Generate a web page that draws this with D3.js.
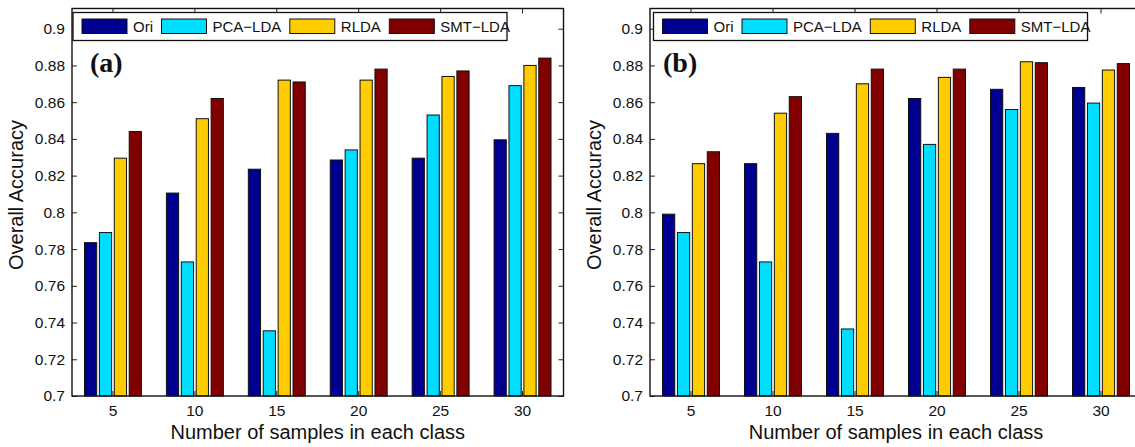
<!DOCTYPE html>
<html>
<head>
<meta charset="utf-8">
<script src="https://cdn.jsdelivr.net/npm/d3@7"></script>
<style>
  body { margin: 0; background: #fff; }
  svg { display: block; font-family: "Liberation Sans", Arial, sans-serif; }
</style>
</head>
<body>
<svg id="chart" width="1135" height="447"></svg>
<script>
// categories and series
const groups = ["5", "10", "15", "20", "25", "30"];
const methods = ["Ori", "PCA\u2212LDA", "RLDA", "SMT\u2212LDA"];
const colors = ["#000090", "#00DDFF", "#FFCC00", "#800000"];
const yTicks = [0.7, 0.72, 0.74, 0.76, 0.78, 0.8, 0.82, 0.84, 0.86, 0.88, 0.9];

// panel (a)
const oriA  = [0.7835, 0.8105, 0.8235, 0.8285, 0.8295, 0.8395];
const pcaA  = [0.789, 0.773, 0.7355, 0.834, 0.853, 0.869];
const rldaA = [0.8295, 0.851, 0.872, 0.872, 0.874, 0.880];
const smtA  = [0.844, 0.862, 0.871, 0.878, 0.877, 0.884];

// panel (b)
const oriB  = [0.799, 0.8265, 0.843, 0.862, 0.867, 0.868];
const pcaB  = [0.789, 0.773, 0.7365, 0.837, 0.856, 0.8595];
const rldaB = [0.8265, 0.854, 0.870, 0.8735, 0.882, 0.8775];
const smtB  = [0.833, 0.863, 0.878, 0.878, 0.8815, 0.881];

const svg = d3.select("#chart");

function drawPanel(opts) {
    let left = opts.left, right = opts.right, top = 8.5, bottom = 396;
    let series = opts.series;

    let g = svg.append("g");

    let x = d3.scaleBand()
        .domain(groups)
        .range([left, right])
        .paddingInner(0.305)
        .paddingOuter(0.1525);

    let xs = d3.scaleBand()
        .domain(d3.range(methods.length))
        .range([0, x.bandwidth()])
        .paddingInner(0.18);

    let y = d3.scaleLinear()
        .domain([0.7, 0.911])
        .range([bottom, top]);

    // bars
    groups.forEach((grp, i) => {
        series.forEach((vals, j) => {
            g.append("rect")
                .attr("x", x(grp) + xs(j))
                .attr("y", y(vals[i]))
                .attr("width", xs.bandwidth())
                .attr("height", y(0.7) - y(vals[i]))
                .attr("fill", colors[j])
                .attr("stroke", "#111")
                .attr("stroke-width", 1);
        });
    });

    // axes, ticks inside like matlab
    let yAxis = d3.axisLeft(y).tickValues(yTicks)
        .tickSizeInner(-5).tickSizeOuter(0).tickPadding(7)
        .tickFormat(d => +d.toFixed(2));
    let gy = g.append("g").attr("transform", `translate(${left},0)`).call(yAxis);

    let gyr = g.append("g").attr("transform", `translate(${right},0)`)
        .call(d3.axisRight(y).tickValues(yTicks).tickSizeInner(-5).tickSizeOuter(0).tickFormat(""));

    let gx = g.append("g").attr("transform", `translate(0,${bottom})`)
        .call(d3.axisBottom(x).tickSizeInner(-5).tickSizeOuter(0).tickPadding(9));

    let gxt = g.append("g").attr("transform", `translate(0,${top})`)
        .call(d3.axisTop(x).tickSizeInner(-5).tickSizeOuter(0).tickFormat(""));

    [gy, gyr, gx, gxt].forEach(a => {
        a.select(".domain").remove();
        a.selectAll("line").attr("stroke", "#222");
        a.selectAll("text").attr("font-size", 15.5)
            .attr("font-family", "Liberation Sans, Arial, sans-serif").attr("fill", "#111");
    });

    // frame
    g.append("rect")
        .attr("x", left).attr("y", top)
        .attr("width", right - left).attr("height", bottom - top)
        .attr("fill", "none").attr("stroke", "#111").attr("stroke-width", 1.4);

    // legend
    let lg = g.append("g");
    let lx = opts.legendX, ly = 12.5;
    lg.append("rect")
        .attr("x", lx).attr("y", ly).attr("width", 434).attr("height", 28)
        .attr("fill", "#fff").attr("stroke", "#111").attr("stroke-width", 1.3);
    let cx = lx + 9;
    methods.forEach((m, j) => {
        lg.append("rect")
            .attr("x", cx).attr("y", ly + 6.5)
            .attr("width", 45).attr("height", 14.5)
            .attr("fill", colors[j]).attr("stroke", "#111").attr("stroke-width", 1);
        let t = lg.append("text")
            .attr("x", cx + 51).attr("y", ly + 19.5)
            .attr("font-size", 15).attr("fill", "#111")
            .text(m);
        cx = cx + 51 + t.node().getComputedTextLength() + 8.5;
    });

    // panel tag
    g.append("text")
        .attr("x", opts.tagX).attr("y", 72)
        .attr("font-family", "Liberation Serif, Times New Roman, serif")
        .attr("font-weight", "bold").attr("font-size", 28).attr("fill", "#111")
        .text(opts.tag);

    // axis titles
    g.append("text")
        .attr("x", (left + right) / 2).attr("y", 439)
        .attr("text-anchor", "middle").attr("font-size", 20).attr("fill", "#111")
        .text("Number of samples in each class");

    g.append("text")
        .attr("transform", `translate(${left - 49},195)rotate(-90)`)
        .attr("text-anchor", "middle").attr("font-size", 20).attr("fill", "#111")
        .text("Overall Accuracy");
}

drawPanel({left: 72, right: 563.5, series: [oriA, pcaA, rldaA, smtA], legendX: 73, tagX: 90, tag: "(a)"});
drawPanel({left: 650, right: 1142, series: [oriB, pcaB, rldaB, smtB], legendX: 653.5, tagX: 663, tag: "(b)"});
</script>
</body>
</html>
